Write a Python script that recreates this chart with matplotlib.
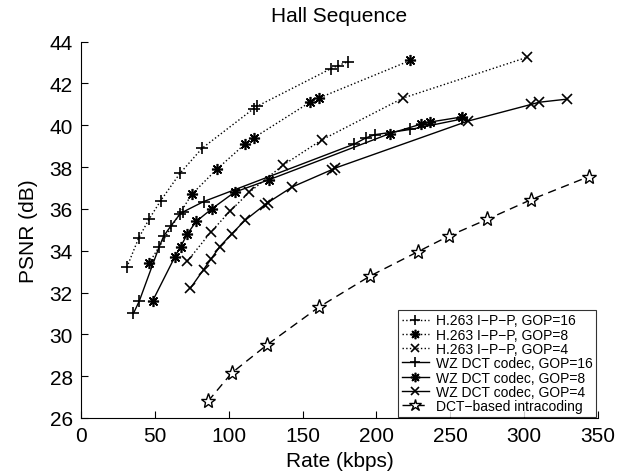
import matplotlib
matplotlib.use("Agg")
import matplotlib.pyplot as plt

# H.263 I-P-P (dotted)
h263_g16_rate = [31, 39, 46, 54, 67, 82, 117, 119, 169, 174, 181]
h263_g16_psnr = [33.2, 34.6, 35.5, 36.4, 37.7, 38.9, 40.8, 40.9, 42.7, 42.85, 43.05]

h263_g8_rate = [46, 75, 92, 111, 117, 155, 161, 223]
h263_g8_psnr = [33.4, 36.7, 37.9, 39.1, 39.4, 41.1, 41.3, 43.1]

h263_g4_rate = [72, 88, 101, 114, 137, 163, 218, 302]
h263_g4_psnr = [33.5, 34.9, 35.9, 36.8, 38.1, 39.3, 41.3, 43.25]

# WZ DCT codec (solid)
wz_g16_rate = [35.5, 39.5, 53, 56, 61, 67, 69, 83, 185, 193, 199, 223, 258]
wz_g16_psnr = [31.0, 31.6, 34.2, 34.7, 35.2, 35.75, 35.85, 36.35, 39.1, 39.4, 39.55, 39.8, 40.3]

wz_g8_rate = [48.5, 63.5, 67.5, 72, 78, 88.5, 104, 127.5, 209, 230, 236, 258]
wz_g8_psnr = [31.6, 33.7, 34.2, 34.8, 35.4, 36.0, 36.8, 37.4, 39.6, 40.05, 40.15, 40.4]

wz_g4_rate = [74, 83, 88, 94, 102, 111, 124.5, 126.5, 143, 170, 172, 262, 305, 310, 329]
wz_g4_psnr = [32.2, 33.1, 33.6, 34.2, 34.8, 35.45, 36.2, 36.3, 37.05, 37.88, 37.95, 40.2, 41.0, 41.1, 41.25]

# DCT-based intracoding (dashed)
dct_rate = [86, 102, 126, 161, 196, 228, 249, 275, 305, 344]
dct_psnr = [26.8, 28.15, 29.5, 31.3, 32.8, 33.95, 34.7, 35.5, 36.45, 37.55]

plt.rcParams['font.family'] = ['Liberation Sans', 'DejaVu Sans']

fig = plt.figure(figsize=(6.28, 4.77), dpi=100)
ax = fig.add_axes([0.129, 0.1216, 0.823, 0.789])

asterisk = (8, 2, 0)
lw = 1.0
ax.plot(h263_g16_rate, h263_g16_psnr, color='k', ls=':', lw=lw, marker='+', ms=8, mew=1.2,
        label='H.263 I\u2212P\u2212P, GOP=16')
ax.plot(h263_g8_rate, h263_g8_psnr, color='k', ls=':', lw=lw, marker=asterisk, ms=8, mew=1.2,
        label='H.263 I\u2212P\u2212P, GOP=8')
ax.plot(h263_g4_rate, h263_g4_psnr, color='k', ls=':', lw=lw, marker='x', ms=7, mew=1.2,
        label='H.263 I\u2212P\u2212P, GOP=4')
ax.plot(wz_g16_rate, wz_g16_psnr, color='k', ls='-', lw=lw, marker='+', ms=8, mew=1.2,
        label='WZ DCT codec, GOP=16')
ax.plot(wz_g8_rate, wz_g8_psnr, color='k', ls='-', lw=lw, marker=asterisk, ms=8, mew=1.2,
        label='WZ DCT codec, GOP=8')
ax.plot(wz_g4_rate, wz_g4_psnr, color='k', ls='-', lw=lw, marker='x', ms=7, mew=1.2,
        label='WZ DCT codec, GOP=4')
ax.plot(dct_rate, dct_psnr, color='k', ls=(0, (6, 4)), lw=lw, marker='*', ms=11, mew=1.0,
        mfc='white', label='DCT\u2212based intracoding')

ax.set_xlim(0, 350)
ax.set_ylim(26, 44)
ax.set_xticks(range(0, 351, 50))
ax.set_yticks(range(26, 45, 2))
ax.spines['top'].set_visible(False)
ax.spines['right'].set_visible(False)
ax.tick_params(direction='in', length=5, labelsize=15, pad=6)

ax.set_title('Hall Sequence', fontsize=15, pad=15)
ax.set_xlabel('Rate (kbps)', fontsize=15, labelpad=4)
ax.set_ylabel('PSNR (dB)', fontsize=15, labelpad=8)

leg = ax.legend(loc='lower right', fontsize=10, frameon=True, fancybox=False,
                edgecolor='k', handlelength=2.0, handletextpad=0.5, markerscale=0.85,
                labelspacing=0.02, borderpad=0.25, borderaxespad=0.1,
                bbox_to_anchor=(1.0, 0.0))
leg.get_frame().set_linewidth(0.8)

fig.savefig('out.png', dpi=100)
